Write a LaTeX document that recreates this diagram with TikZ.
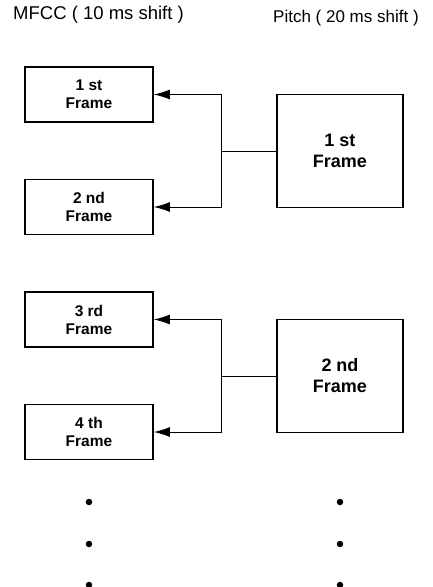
\documentclass[tikz,border=0pt]{standalone}
\usepackage{fontspec}
\setmainfont{Liberation Sans}
\usetikzlibrary{arrows.meta,positioning}
\tikzset{
  ttl/.style={anchor=west,inner sep=0pt,font=\fontsize{18.5}{20}\selectfont},
  mbox/.style={draw=black,line width=1.8pt,minimum width=128pt,minimum height=55pt,align=center,inner sep=0pt,font=\bfseries\fontsize{15.5}{18}\selectfont},
  pbox/.style={draw=black,line width=1.8pt,minimum width=126pt,minimum height=113pt,align=center,inner sep=0pt,font=\bfseries\fontsize{18}{21}\selectfont},
  lnk/.style={line width=.9pt},
  arr/.style={lnk,-{Latex[length=16pt,width=10pt]}},
  dot/.style={circle,fill=black,inner sep=0pt,minimum size=6.5pt},
}
\begin{document}
\begin{tikzpicture}[x=1pt,y=-1pt]
  \useasboundingbox (0,0) rectangle (433,587);
  % titles
  \node[ttl] (tm) at (13,15) {MFCC ( 10 ms shift )};
  \node[ttl,font=\fontsize{17}{20}\selectfont] (tp) at (273,18) {Pitch ( 20 ms shift )};
  % first pitch frame
  \node[mbox] (f1) at (89,94.5) {1 st\\Frame};
  \node[mbox] (f2) at (89,207) {2 nd\\Frame};
  \node[pbox] (p1) at (340,151) {1 st\\Frame};
  \coordinate (j1) at (221,151);
  \draw[lnk] (p1.west) -- (j1);
  \draw[arr] (j1) |- (f1.east);
  \draw[arr] (j1) |- (f2.east);
  % second pitch frame
  \node[mbox] (f3) at (89,319.5) {3 rd\\Frame};
  \node[mbox] (f4) at (89,432) {4 th\\Frame};
  \node[pbox] (p2) at (340,376) {2 nd\\Frame};
  \coordinate (j2) at (221,376);
  \draw[lnk] (p2.west) -- (j2);
  \draw[arr] (j2) |- (f3.east);
  \draw[arr] (j2) |- (f4.east);
  % dots
  \foreach \i/\y in {1/502,2/544,3/585} {
    \node[dot] (ml\i) at (89,\y) {};
    \node[dot] (pl\i) at (340,\y) {};
  }
\end{tikzpicture}
\end{document}
